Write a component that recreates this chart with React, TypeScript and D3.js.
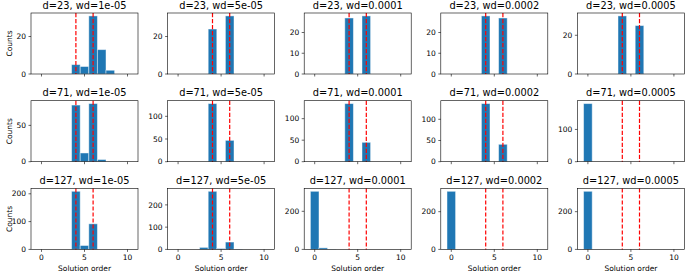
import React from 'react';
import * as d3 from 'd3';

// solution orders (histogram bins, centred on integers)
const orders = [0, 1, 2, 3, 4, 5, 6, 7, 8, 9, 10];
const dValues = [23, 71, 127];
const wdLabels = ['1e-05', '5e-05', '0.0001', '0.0002', '0.0005'];
const refOrders = [4, 6];
const xTicks = [0, 5, 10];

const countsD23 = [
  [0, 0, 0, 0, 5, 4, 31, 13, 2, 0, 0],
  [0, 0, 0, 0, 24, 0, 31, 0, 0, 0, 0],
  [0, 0, 0, 0, 27, 0, 28, 0, 0, 0, 0],
  [0, 0, 0, 0, 28, 0, 27, 0, 0, 0, 0],
  [0, 0, 0, 0, 30, 0, 25, 0, 0, 0, 0],
];
const countsD71 = [
  [0, 0, 0, 0, 78, 12, 80, 3, 0, 0, 0],
  [0, 0, 0, 0, 128, 0, 47, 0, 0, 0, 0],
  [0, 0, 0, 0, 135, 0, 45, 0, 0, 0, 0],
  [0, 0, 0, 0, 137, 0, 41, 0, 0, 0, 0],
  [180, 0, 0, 0, 0, 0, 0, 0, 0, 0, 0],
];
const countsD127 = [
  [0, 0, 0, 0, 209, 14, 92, 0, 0, 0, 0],
  [0, 0, 0, 9, 261, 4, 33, 1, 0, 0, 0],
  [305, 8, 1, 0, 0, 0, 0, 0, 0, 0, 0],
  [308, 0, 0, 0, 0, 0, 0, 0, 0, 0, 0],
  [308, 0, 0, 0, 0, 0, 0, 0, 0, 0, 0],
];

const yTicksD23 = [[0, 20], [0, 20], [0, 10, 20], [0, 10, 20], [0, 20]];
const yTicksD71 = [[0, 50], [0, 50, 100], [0, 50, 100], [0, 50, 100], [0, 100]];
const yTicksD127 = [[0, 100, 200], [0, 100, 200], [0, 200], [0, 200], [0, 200]];

const allCounts = [countsD23, countsD71, countsD127];
const allTicks = [yTicksD23, yTicksD71, yTicksD127];

const W = 685;
const H = 273;
const colLeft = [31, 167.6, 304.2, 440.8, 577.4];
const rowTop = [13, 100.7, 188.4];
const pw = 107;
const ph = 61;
const font = 'DejaVu Sans, sans-serif';
const small = 7.5;

const Panel = ({ row, col }: { row: number; col: number }) => {
  const counts = allCounts[row][col];
  const ticks = allTicks[row][col];
  const x = d3.scaleLinear().domain([-1.22, 11.22]).range([0, pw]);
  const y = d3.scaleLinear().domain([0, (d3.max(counts) as number) * 1.05]).range([ph, 0]);
  const bottomRow = row === dValues.length - 1;

  return (
    <g transform={`translate(${colLeft[col]},${rowTop[row]})`}>
      {orders.map((o, i) =>
        counts[i] > 0 ? (
          <rect key={o}
            x={x(o - 0.5)} y={y(counts[i])}
            width={x(o + 0.5) - x(o - 0.5)} height={ph - y(counts[i])}
            fill="#1f77b4" stroke="#ffffff" strokeOpacity={0.5} strokeWidth={0.9} />
        ) : null
      )}
      {refOrders.map(r => (
        <line key={r} x1={x(r)} x2={x(r)} y1={0} y2={ph}
          stroke="#ff0000" strokeWidth={1.2} strokeDasharray="4.2,1.8" />
      ))}
      <rect x={0} y={0} width={pw} height={ph} fill="none" stroke="#000" strokeWidth={0.6} />
      {ticks.map(t => (
        <g key={t} transform={`translate(0,${y(t)})`}>
          <line x1={-2.5} x2={0} stroke="#000" strokeWidth={0.6} />
          <text x={-5} dy="0.35em" textAnchor="end" fontSize={small} fontFamily={font}>{t}</text>
        </g>
      ))}
      {xTicks.map(t => (
        <g key={t} transform={`translate(${x(t)},${ph})`}>
          <line y1={0} y2={2.5} stroke="#000" strokeWidth={0.6} />
          {bottomRow && (
            <text y={11} textAnchor="middle" fontSize={small} fontFamily={font}>{t}</text>
          )}
        </g>
      ))}
      <text x={pw / 2} y={-4.5} textAnchor="middle" fontSize={9.8} fontFamily={font}>
        {`d=${dValues[row]}, wd=${wdLabels[col]}`}
      </text>
      {bottomRow && (
        <text x={pw / 2} y={ph + 21.8} textAnchor="middle" fontSize={small} fontFamily={font}>
          Solution order
        </text>
      )}
      {col === 0 && (
        <text transform={`translate(${-colLeft[0] + 11.8},${ph / 2}) rotate(-90)`}
          textAnchor="middle" fontSize={small} fontFamily={font}>Counts</text>
      )}
    </g>
  );
};

export default function App() {
  return (
    <svg width={W} height={H} style={{ position: 'absolute', left: 0, top: 0, background: '#fff' }}>
      {dValues.map((d, r) =>
        wdLabels.map((wd, c) => <Panel key={`${d}-${wd}`} row={r} col={c} />)
      )}
    </svg>
  );
}
